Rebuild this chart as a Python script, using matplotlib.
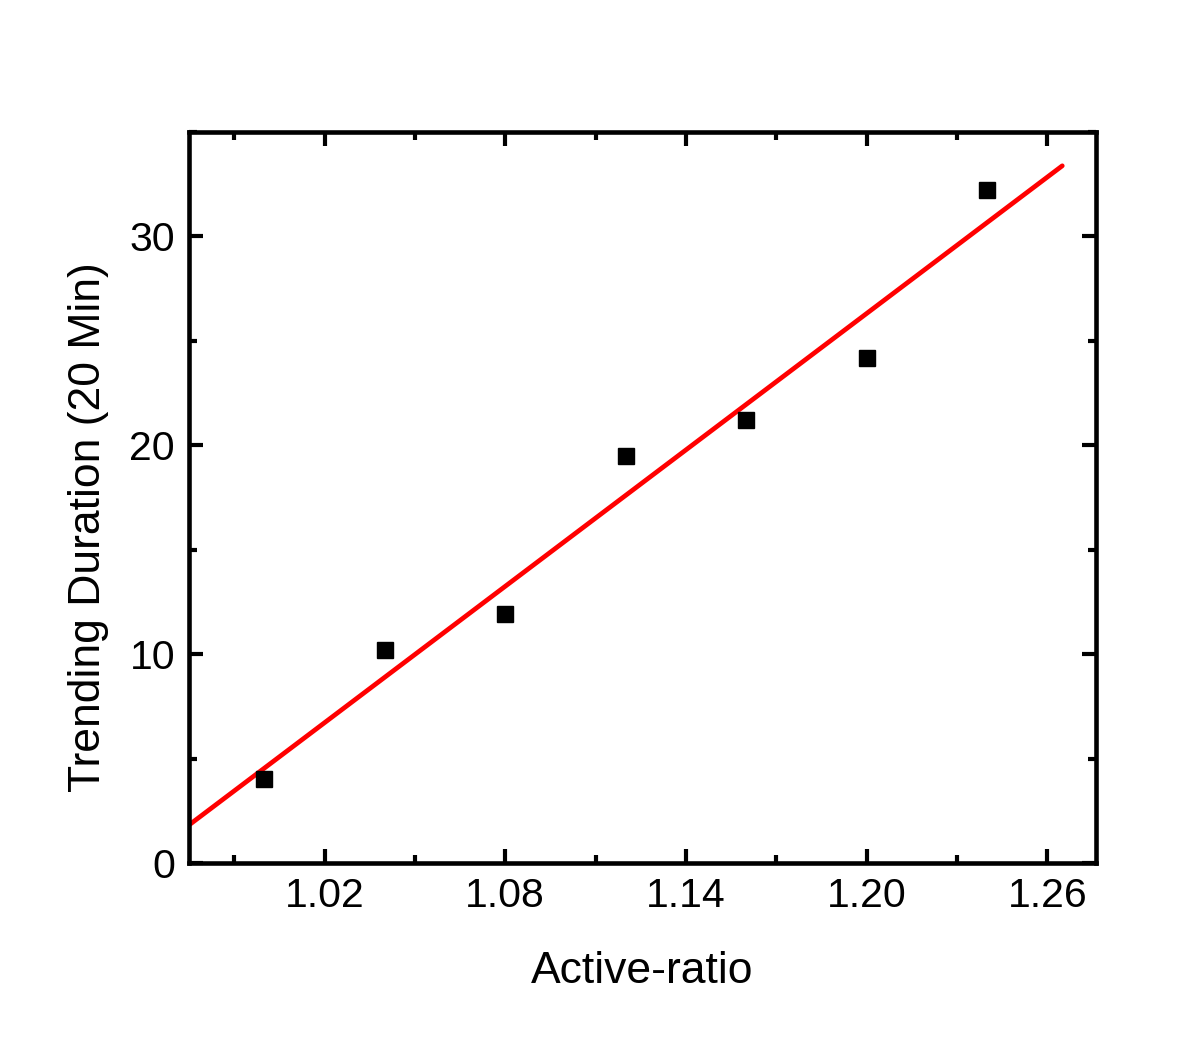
import numpy as np
import matplotlib
matplotlib.use("Agg")
import matplotlib.pyplot as plt
from matplotlib.ticker import MultipleLocator

plt.rcParams['font.family'] = ['Liberation Sans', 'DejaVu Sans']

active_ratio = [1.00, 1.04, 1.08, 1.12, 1.16, 1.20, 1.24]
duration = [4.0, 10.2, 11.9, 19.5, 21.2, 24.2, 32.2]
x_ticks = [1.02, 1.08, 1.14, 1.20, 1.26]
y_ticks = [0, 10, 20, 30]

fig = plt.figure(figsize=(12, 10.59), dpi=100)
ax = fig.add_axes([189/1200, 1 - 863/1059, (1096-189)/1200, (863-132)/1059])

slope, intercept = np.polyfit(active_ratio, duration, 1)
xf = np.array([0.975, 1.265])
ax.plot(xf, slope * xf + intercept, color='#ff0000', lw=3.4, solid_capstyle='round', zorder=2)
ax.plot(active_ratio, duration, 's', color='black', ms=12, zorder=3)

ax.set_xlim(0.975, 1.2762)
ax.set_ylim(0, 35)
ax.set_xticks(x_ticks)
ax.set_xticklabels([f"{v:.2f}" for v in x_ticks])
ax.set_yticks(y_ticks)
ax.xaxis.set_minor_locator(MultipleLocator(0.03))
ax.yaxis.set_minor_locator(MultipleLocator(5))
ax.tick_params(which='both', direction='in', top=True, right=True, width=3, labelsize=29.5)
ax.tick_params(which='major', length=10, pad=10)
ax.tick_params(which='minor', length=6)
for s in ax.spines.values():
    s.set_linewidth(3.3)
ax.set_xlabel('Active-ratio', fontsize=32, labelpad=26)
ax.set_ylabel('Trending Duration (20 Min)', fontsize=32)
ax.yaxis.set_label_coords(-0.088, 0.46)

fig.savefig('out.png', dpi=100)
